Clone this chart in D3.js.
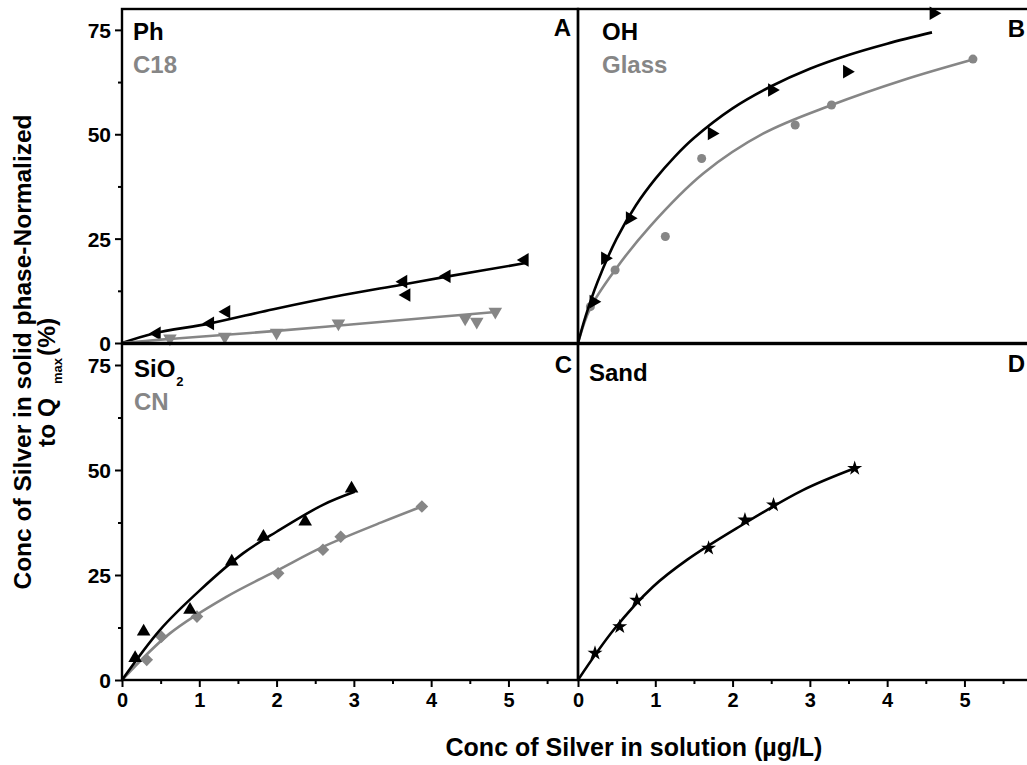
<!DOCTYPE html>
<html>
<head>
<meta charset="utf-8">
<script src="https://cdn.jsdelivr.net/npm/d3@7"></script>
<style>
  body { margin: 0; background: #fff; }
  svg text { font-family: "Liberation Sans", Arial, sans-serif; font-weight: bold; }
</style>
</head>
<body>
<svg id="chart" width="1027" height="765"></svg>
<script>
// ---------- DATA ----------
const xTickValues = [0, 1, 2, 3, 4, 5];
const xMinorTicks = [0.5, 1.5, 2.5, 3.5, 4.5, 5.5];
const yTickValues = [0, 25, 50, 75];
const yMinorTicks = [12.5, 37.5, 62.5];
const panelLetters = ["A", "B", "C", "D"];

// Panel A
const phX   = [0.45, 1.14, 1.35, 3.64, 3.68, 4.20, 5.21];
const phY   = [2.3, 4.7, 7.5, 14.7, 11.5, 16.0, 19.9];
const phFitX = [0, 0.41, 1.14, 1.96, 2.86, 3.60, 4.20, 5.24];
const phFitY = [0, 2.3, 4.7, 8.1, 11.5, 13.9, 15.9, 19.2];
const c18X  = [0.62, 1.33, 2.00, 2.80, 4.44, 4.59, 4.83];
const c18Y  = [1.1, 1.5, 2.5, 4.7, 5.9, 5.1, 7.5];
const c18FitX = [0, 0.5, 1, 2, 3, 4, 4.87];
const c18FitY = [0, 0.8, 1.5, 2.9, 4.5, 6.1, 7.5];

// Panel B
const ohX   = [0.20, 0.35, 0.67, 1.73, 2.51, 3.48, 4.60];
const ohY   = [9.9, 20.3, 29.9, 50.2, 60.6, 65.0, 79.0];
const ohFitX = [0, 0.1, 0.25, 0.5, 0.75, 1.0, 1.25, 1.5, 2.0, 2.5, 3.0, 3.5, 4.0, 4.58];
const ohFitY = [0, 6.5, 14.5, 25.0, 33.0, 39.3, 44.6, 49.1, 56.2, 61.5, 65.7, 69.0, 71.7, 74.4];
const glassX = [0.16, 0.48, 1.13, 1.60, 2.81, 3.28, 5.11];
const glassY = [8.7, 17.5, 25.5, 44.2, 52.2, 57.0, 68.0];
const glassFitX = [0, 0.16, 0.48, 0.93, 1.62, 2.40, 3.28, 4.21, 5.11];
const glassFitY = [0, 8.4, 17.5, 27.9, 40.6, 50.2, 57.0, 63.0, 67.9];

// Panel C
const sio2X = [0.17, 0.28, 0.88, 1.42, 1.83, 2.37, 2.97];
const sio2Y = [5.2, 11.5, 16.7, 28.2, 34.1, 37.7, 45.6];
const sio2FitX = [0, 0.49, 1.01, 1.57, 2.00, 2.60, 3.01];
const sio2FitY = [0, 11.9, 21.4, 30.2, 35.3, 41.7, 44.8];
const cnX   = [0.32, 0.51, 0.97, 2.02, 2.60, 2.83, 3.88];
const cnY   = [4.8, 10.3, 15.1, 25.4, 31.0, 34.1, 41.3];
const cnFitX = [0, 0.62, 1.35, 2.02, 2.60, 3.38, 3.88];
const cnFitY = [0, 11.1, 19.8, 26.2, 31.7, 37.7, 41.3];

// Panel D
const sandX = [0.22, 0.54, 0.76, 1.69, 2.16, 2.53, 3.58];
const sandY = [6.4, 12.7, 19.0, 31.4, 38.1, 41.7, 50.4];
const sandFitX = [0, 0.46, 0.97, 1.41, 2.05, 2.91, 3.58];
const sandFitY = [0, 11.9, 22.2, 28.6, 36.1, 45.2, 50.4];

// ---------- LAYOUT ----------
const BLACK = "#000", GREY = "#868686";
const svg = d3.select("#chart");
const xDomain = [0, 5.9], yDomain = [0, 80];

const panels = [
  { letter: panelLetters[0], x0: 122, y0: 9,   y1: 343, left: true,  bottom: false,
    names: [{t: "Ph", c: BLACK}, {t: "C18", c: GREY}], nameX: 133, letterX: 571, letterY: 36,
    series: [
      {x: phX, y: phY, fx: phFitX, fy: phFitY, color: BLACK, sym: "triL"},
      {x: c18X, y: c18Y, fx: c18FitX, fy: c18FitY, color: GREY, sym: "triD"}
    ]},
  { letter: panelLetters[1], x0: 578, y0: 9,   y1: 343, left: false, bottom: false,
    names: [{t: "OH", c: BLACK}, {t: "Glass", c: GREY}], nameX: 602, letterX: 1025, letterY: 37,
    series: [
      {x: glassX, y: glassY, fx: glassFitX, fy: glassFitY, color: GREY, sym: "circle"},
      {x: ohX, y: ohY, fx: ohFitX, fy: ohFitY, color: BLACK, sym: "triR"}
    ]},
  { letter: panelLetters[2], x0: 122, y0: 344, y1: 680, left: true,  bottom: true,
    names: [{t: "SiO", c: BLACK, sub: "2"}, {t: "CN", c: GREY}], nameX: 134, letterX: 572, letterY: 373,
    series: [
      {x: cnX, y: cnY, fx: cnFitX, fy: cnFitY, color: GREY, sym: "diamond"},
      {x: sio2X, y: sio2Y, fx: sio2FitX, fy: sio2FitY, color: BLACK, sym: "triU"}
    ]},
  { letter: panelLetters[3], x0: 578, y0: 344, y1: 680, left: false, bottom: true,
    names: [{t: "Sand", c: BLACK}], nameX: 589, letterX: 1025, letterY: 372, nameY0: 379,
    series: [
      {x: sandX, y: sandY, fx: sandFitX, fy: sandFitY, color: BLACK, sym: "star"}
    ]}
];

const W = 456;
const symbols = {
  triL:   {type: d3.symbolTriangle, size: 80, rot: -90},
  triR:   {type: d3.symbolTriangle, size: 80, rot: 90},
  triD:   {type: d3.symbolTriangle, size: 80, rot: 180},
  triU:   {type: d3.symbolTriangle, size: 80, rot: 0},
  circle: {type: d3.symbolCircle, size: 64, rot: 0},
  diamond:{type: d3.symbolSquare, size: 80, rot: 45},
  star:   {type: d3.symbolStar, size: 70, rot: 0}
};

panels.forEach(p => {
  const xs = d3.scaleLinear().domain(xDomain).range([p.x0, p.x0 + W]);
  const ys = d3.scaleLinear().domain(yDomain).range([p.y1, p.y0]);
  const g = svg.append("g");

  // fitted curves + markers
  const content = g.append("g");
  p.series.forEach(s => {
    const pts = s.fx.map((v, i) => [v, s.fy[i]]);
    content.append("path")
      .datum(pts)
      .attr("fill", "none")
      .attr("stroke", s.color)
      .attr("stroke-width", 2.6)
      .attr("d", d3.line().x(d => xs(d[0])).y(d => ys(d[1])).curve(d3.curveCatmullRom.alpha(0.5)));
    const sym = symbols[s.sym];
    content.selectAll(null)
      .data(s.x.map((v, i) => [v, s.y[i]]))
      .join("path")
      .attr("d", d3.symbol().type(sym.type).size(sym.size))
      .attr("transform", d => `translate(${xs(d[0])},${ys(d[1])}) rotate(${sym.rot})`)
      .attr("fill", s.color);
  });

  // frame
  g.append("rect")
    .attr("x", p.x0).attr("y", p.y0).attr("width", W).attr("height", p.y1 - p.y0)
    .attr("fill", "none").attr("stroke", BLACK).attr("stroke-width", 2.4);

  // y axis (left panels)
  if (p.left) {
    const ya = g.append("g").attr("transform", `translate(${p.x0},0)`)
      .call(d3.axisLeft(ys).tickValues(yTickValues).tickSize(7).tickPadding(4).tickFormat(d3.format("d")));
    ya.select(".domain").remove();
    ya.selectAll("line").attr("stroke-width", 2);
    ya.selectAll("text").attr("font-size", 21).attr("fill", BLACK)
      .attr("font-family", "Liberation Sans, Arial, sans-serif").attr("font-weight", "bold")
      .attr("dy", "0.36em");
    const ym = g.append("g").attr("transform", `translate(${p.x0},0)`)
      .call(d3.axisLeft(ys).tickValues(yMinorTicks).tickSize(4).tickFormat(""));
    ym.select(".domain").remove();
    ym.selectAll("line").attr("stroke-width", 2);
  }
  // x axis (bottom panels)
  if (p.bottom) {
    const xa = g.append("g").attr("transform", `translate(0,${p.y1})`)
      .call(d3.axisBottom(xs).tickValues(xTickValues).tickSize(7).tickPadding(6).tickFormat(d3.format("d")));
    xa.select(".domain").remove();
    xa.selectAll("line").attr("stroke-width", 2);
    xa.selectAll("text").attr("font-size", 20).attr("fill", BLACK)
      .attr("font-family", "Liberation Sans, Arial, sans-serif").attr("font-weight", "bold");
    const xm = g.append("g").attr("transform", `translate(0,${p.y1})`)
      .call(d3.axisBottom(xs).tickValues(xMinorTicks).tickSize(4).tickFormat(""));
    xm.select(".domain").remove();
    xm.selectAll("line").attr("stroke-width", 2);
  }

  // series names
  p.names.forEach((n, i) => {
    const base = (p.nameY0 || (p.y0 + 31)) + i * 33 + (p.y0 > 100 ? 2 : 0);
    const t = g.append("text").attr("x", p.nameX).attr("y", base)
      .attr("font-size", 24).attr("fill", n.c).text(n.t);
    if (n.sub) {
      t.append("tspan").attr("font-size", 13).attr("dy", 9).attr("dx", 1).text(n.sub);
    }
  });
  // panel letter
  g.append("text").attr("x", p.letterX).attr("y", p.letterY)
    .attr("text-anchor", "end").attr("font-size", 24).attr("fill", BLACK).text(p.letter);
});

// axis titles
svg.append("text").attr("x", 634).attr("y", 756).attr("text-anchor", "middle")
  .attr("font-size", 25).attr("fill", BLACK).text("Conc of Silver in solution (µg/L)");

svg.append("text").attr("transform", "translate(31,352) rotate(-90)")
  .attr("text-anchor", "middle").attr("font-size", 24.5).attr("fill", BLACK)
  .text("Conc of Silver in solid phase-Normalized");

const yt2 = svg.append("text").attr("transform", "translate(55,447) rotate(-90)")
  .attr("text-anchor", "start").attr("font-size", 24.5).attr("fill", BLACK);
yt2.append("tspan").text("to Q");
yt2.append("tspan").attr("font-size", 13).attr("dy", 7).attr("dx", 14).text("max");
yt2.append("tspan").attr("dy", -7).attr("dx", 2).text("(%)");
</script>
</body>
</html>
